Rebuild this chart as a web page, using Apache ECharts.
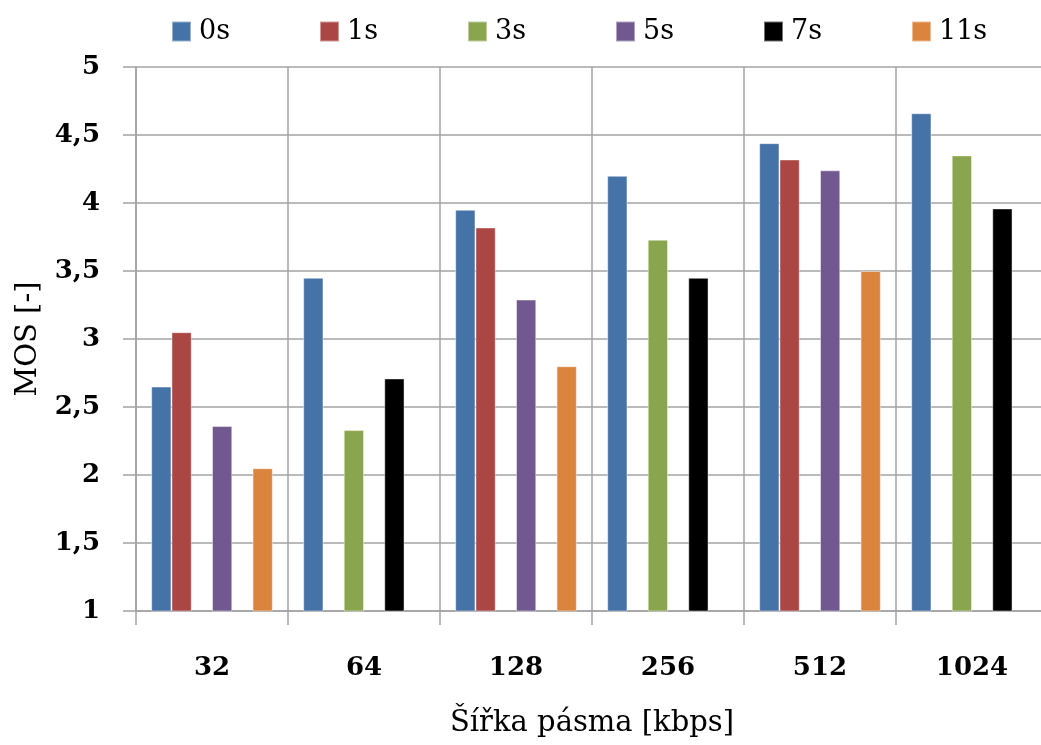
<!DOCTYPE html>
<html>
<head>
<meta charset="utf-8">
<script src="https://cdn.jsdelivr.net/npm/echarts@6/dist/echarts.min.js"></script>
<style>
  html, body { margin: 0; padding: 0; background: #fff; overflow: hidden; }
  #chart { width: 1048px; height: 745px; }
</style>
</head>
<body>
<div id="chart"></div>
<script>
  // sirka pasma (kbps)
  const categories = ['32', '64', '128', '256', '512', '1024'];
  const seriesNames = ['0s', '1s', '3s', '5s', '7s', '11s'];
  const s0 = [2.65, 3.45, 3.95, 4.2, 4.44, 4.66];
  const s1 = [3.05, null, 3.82, null, 4.32, null];
  const s3 = [null, 2.33, null, 3.73, null, 4.35];
  const s5 = [2.36, null, 3.29, null, 4.24, null];
  const s7 = [null, 2.71, null, 3.45, null, 3.96];
  const s11 = [2.05, null, 2.8, null, 3.5, null];
  const colors = ['#4572A7', '#AA4643', '#89A54E', '#71588F', '#000000', '#DB843D'];

  const font = '"DejaVu Serif", "Liberation Serif", serif';
  const gridColor = '#a3a3a3';

  const chart = echarts.init(document.getElementById('chart'));

  const values = [s0, s1, s3, s5, s7, s11];
  const series = values.map((data, i) => ({
    name: seriesNames[i],
    type: 'bar',
    data: data,
    barGap: '0%',
    barCategoryGap: '20%',
    clip: true,
    itemStyle: {
      color: colors[i],
      borderColor: 'rgba(255,255,255,0.45)',
      borderWidth: 1,
    },
  }));

  // one legend per entry so the spacing matches the original
  const legends = seriesNames.map((name, i) => ({
    data: [name],
    left: 166 + 148 * i,
    top: 13,
    itemWidth: 19,
    itemHeight: 20,
    icon: 'rect',
    textStyle: {
      fontFamily: font,
      fontSize: 27,
      color: '#000',
      padding: [0, 0, 0, 3],
    },
  }));

  chart.setOption({
    animation: false,
    color: colors,
    legend: legends,
    grid: {
      left: 136,
      right: 0,
      top: 67,
      bottom: 134,
    },
    xAxis: {
      type: 'category',
      data: categories,
      name: 'Šířka pásma [kbps]',
      nameLocation: 'middle',
      nameGap: 98,
      nameTextStyle: {
        fontFamily: font,
        fontSize: 29,
        color: '#000',
      },
      axisLine: { lineStyle: { color: gridColor, width: 1.5 } },
      axisTick: { show: true, length: 14, lineStyle: { color: gridColor, width: 1.5 } },
      axisLabel: {
        margin: 44,
        fontFamily: font,
        fontWeight: 'bold',
        fontSize: 26,
        color: '#000',
      },
      splitLine: { show: true, lineStyle: { color: gridColor, width: 1.5 } },
    },
    yAxis: {
      type: 'value',
      min: 1,
      max: 5,
      interval: 0.5,
      name: 'MOS [-]',
      nameLocation: 'middle',
      nameGap: 93,
      nameTextStyle: {
        fontFamily: font,
        fontSize: 29,
        color: '#000',
      },
      axisLine: { show: true, lineStyle: { color: gridColor, width: 1.5 } },
      axisTick: { show: true, length: 13, lineStyle: { color: gridColor, width: 1.5 } },
      axisLabel: {
        margin: 36,
        fontFamily: font,
        fontWeight: 'bold',
        fontSize: 26,
        color: '#000',
        formatter: (v) => String(v).replace('.', ','),
      },
      splitLine: { show: true, lineStyle: { color: gridColor, width: 1.5 } },
    },
    series: series,
  });
</script>
</body>
</html>
